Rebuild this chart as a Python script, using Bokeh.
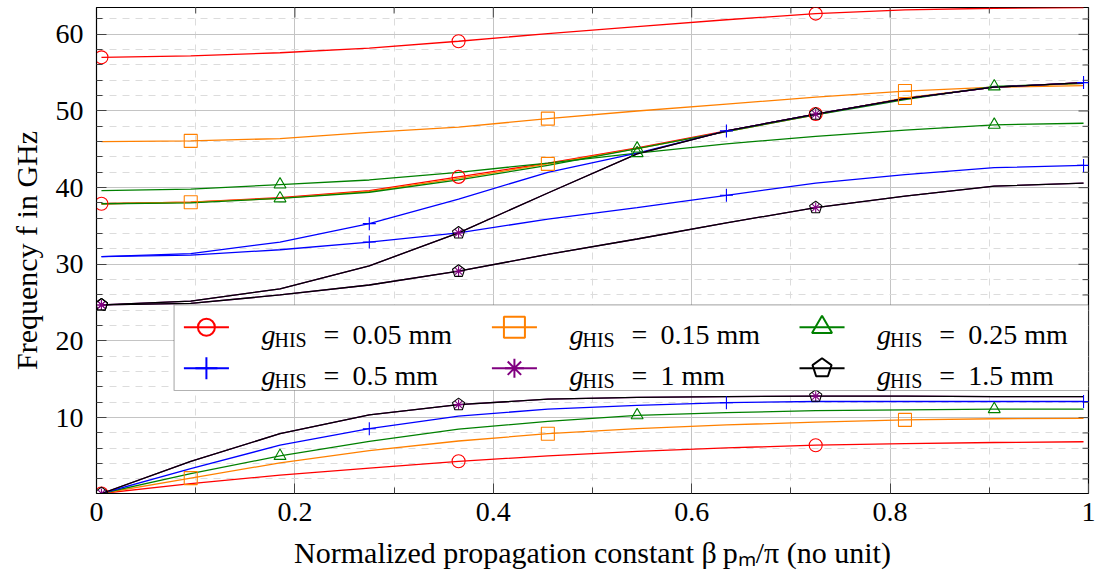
import math
from bokeh.plotting import figure
from bokeh.models import (FixedTicker, BoxAnnotation, Label, Range1d,
                          CustomJSTickFormatter, ColumnDataSource)
from bokeh.models import glyphs as bk_glyphs
from bokeh.embed import file_html
from bokeh.resources import INLINE

# ---------------------------------------------------------------- data
BETA = [0.005, 0.095, 0.185, 0.275, 0.365, 0.455, 0.545, 0.635, 0.725, 0.815, 0.905, 0.995]

G005_LOW = [0.1, 1.4, 2.5, 3.4, 4.3, 5.0, 5.6, 6.05, 6.4, 6.6, 6.75, 6.85]
G005_MID = [37.9, 38.1, 38.7, 39.6, 41.4, 43.2, 45.2, 47.4, 49.6, 51.6, 53.1, 53.7]
G005_TOP = [57.0, 57.2, 57.6, 58.2, 59.1, 60.1, 61.0, 61.9, 62.7, 63.2, 63.4, 63.5]

G015_LOW = [0.1, 2.1, 4.1, 5.7, 6.95, 7.9, 8.55, 9.05, 9.4, 9.7, 9.85, 9.9]
G015_MID = [37.9, 38.1, 38.6, 39.5, 41.2, 43.1, 45.1, 47.3, 49.5, 51.7, 53.1, 53.6]
G015_TOP = [46.0, 46.1, 46.4, 47.2, 47.9, 49.0, 50.0, 50.9, 51.8, 52.6, 53.1, 53.3]

G025_LOW = [0.1, 2.7, 5.0, 6.9, 8.5, 9.5, 10.3, 10.65, 10.9, 11.0, 11.1, 11.1]
G025_MID = [37.9, 38.0, 38.6, 39.4, 41.0, 42.9, 45.1, 47.3, 49.5, 51.5, 53.2, 53.6]
G025_TOP = [39.6, 39.8, 40.4, 41.0, 42.0, 43.2, 44.5, 45.7, 46.7, 47.5, 48.2, 48.4]

G05_LOW = [0.1, 3.35, 6.4, 8.55, 10.2, 11.1, 11.6, 11.95, 12.1, 12.1, 12.1, 12.1]
G05_MID = [31.0, 31.2, 31.9, 32.9, 34.1, 35.9, 37.4, 39.0, 40.6, 41.7, 42.6, 42.9]
G05_TOP = [31.0, 31.4, 32.9, 35.3, 38.5, 42.0, 44.5, 47.4, 49.6, 51.6, 53.1, 53.7]

G1_LOW = [0.1, 4.3, 7.9, 10.35, 11.7, 12.4, 12.65, 12.75, 12.8, 12.8, 12.75, 12.75]
G1_MID = [24.7, 24.9, 26.0, 27.3, 29.1, 31.3, 33.3, 35.4, 37.4, 38.9, 40.2, 40.6]
G1_TOP = [24.7, 25.2, 26.8, 29.8, 34.1, 39.3, 44.4, 47.4, 49.6, 51.6, 53.1, 53.7]

G15_LOW = [0.1, 4.3, 7.9, 10.35, 11.7, 12.4, 12.65, 12.75, 12.8, 12.8, 12.75, 12.75]
G15_MID = [24.7, 24.9, 26.0, 27.3, 29.1, 31.3, 33.3, 35.4, 37.4, 38.9, 40.2, 40.6]
G15_TOP = [24.7, 25.2, 26.8, 29.8, 34.1, 39.3, 44.4, 47.4, 49.6, 51.6, 53.1, 53.7]

LEGEND_VALUES = ["0.05 mm", "0.15 mm", "0.25 mm", "0.5 mm", "1 mm", "1.5 mm"]

XTICKS = [0, 0.2, 0.4, 0.6, 0.8, 1]
XTICK_LABELS = ["0", "0.2", "0.4", "0.6", "0.8", "1"]
XMINOR = [0.1, 0.3, 0.5, 0.7, 0.9]
YTICKS = [10, 20, 30, 40, 50, 60]
YMINOR = [2, 4, 6, 8, 12, 14, 16, 18, 22, 24, 26, 28, 32, 34, 36, 38,
          42, 44, 46, 48, 52, 54, 56, 58, 62]

X_LABEL = "Normalized propagation constant \u03b2\u2009p\u2098/\u03c0 (no unit)"
Y_LABEL = "Frequency f in GHz"

# ---------------------------------------------------------------- styles
SERIES = [
    dict(branches=[G005_LOW, G005_MID, G005_TOP], color="#ff0000", marker="circle", phase=0),
    dict(branches=[G015_LOW, G015_MID, G015_TOP], color="#ff8000", marker="square", phase=1),
    dict(branches=[G025_LOW, G025_MID, G025_TOP], color="#008000", marker="triangle", phase=2),
    dict(branches=[G05_LOW, G05_MID, G05_TOP], color="#0000ff", marker="cross", phase=3),
    dict(branches=[G1_LOW, G1_MID, G1_TOP], color="#800080", marker="asterisk", phase=0),
    dict(branches=[G15_LOW, G15_MID, G15_TOP], color="#000000", marker="pentagon", phase=0),
]
MARK_REPEAT = 4
DATA_MARK_SIZE = dict(circle=13, square=13, triangle=12, cross=13, asterisk=10, pentagon=6.4)
LEG_MARK_SIZE = dict(circle=17, square=21, triangle=20, cross=22, asterisk=19, pentagon=10)

FONT = "Liberation Serif"
TICK_FS = "28px"
LABEL_FS = "30px"
LEG_FS = "28px"
SUB_FS = "20px"
TICK_COLOR = "#444444"

X0, X1 = 0.0, 1.0
Y0, Y1 = 0.1, 63.5

# frame geometry on page (pixels) used for placing the hand-built legend
FR_L, FR_T = 97.0, 7.0
FR_W, FR_H = 991.0, 486.0


def dx(px):
    return X0 + (px - FR_L) / FR_W * (X1 - X0)


def dy(py):
    return Y1 - (py - FR_T) / FR_H * (Y1 - Y0)


p = figure(width=1096, height=576, x_range=Range1d(X0, X1), y_range=Range1d(Y0, Y1),
           output_backend="svg", toolbar_location=None,
           min_border_left=96, min_border_right=8, min_border_top=7, min_border_bottom=83)
p.outline_line_color = "black"
p.outline_line_width = 1.2
p.background_fill_color = "white"
p.border_fill_color = "white"

xt = FixedTicker(ticks=XTICKS, minor_ticks=XMINOR)
yt = FixedTicker(ticks=YTICKS, minor_ticks=YMINOR)
xfmt = CustomJSTickFormatter(args=dict(tvals=XTICKS, tlabs=XTICK_LABELS),
                             code="const i = tvals.findIndex(t => Math.abs(t - tick) < 1e-9); return i >= 0 ? tlabs[i] : '';")

for ax in p.xaxis:
    ax.ticker = xt
    ax.formatter = xfmt
for ax in p.yaxis:
    ax.ticker = yt

for ax in list(p.xaxis) + list(p.yaxis):
    ax.major_tick_in = 10
    ax.major_tick_out = 0
    ax.minor_tick_in = 6
    ax.minor_tick_out = 0
    ax.major_tick_line_color = TICK_COLOR
    ax.minor_tick_line_color = TICK_COLOR
    ax.axis_line_color = "black"
    ax.major_label_text_font = FONT
    ax.major_label_text_font_size = TICK_FS
    ax.major_label_text_color = "black"
    ax.axis_label_text_font = FONT
    ax.axis_label_text_font_size = LABEL_FS
    ax.axis_label_text_font_style = "normal"
    ax.axis_label_text_color = "black"

p.xaxis.axis_label = X_LABEL
p.yaxis.axis_label = Y_LABEL
p.xaxis.major_label_standoff = 9
p.xaxis.axis_label_standoff = 12
p.yaxis.major_label_standoff = 13
p.yaxis.axis_label_standoff = 10

for g, tk in ((p.xgrid, xt), (p.ygrid, yt)):
    g.ticker = tk
    g.grid_line_color = "#c4c4c4"
    g.grid_line_width = 1
    g.minor_grid_line_color = "#dcdcdc"
    g.minor_grid_line_width = 1
    g.minor_grid_line_dash = "7 6"

# inward ticks on the top and right frame edges (mirrored pgfplots style)
p.ray(x=XTICKS, y=[Y1] * len(XTICKS), length=10, length_units="screen", angle=-math.pi / 2,
      line_color=TICK_COLOR, line_width=1)
p.ray(x=XMINOR, y=[Y1] * len(XMINOR), length=6, length_units="screen", angle=-math.pi / 2,
      line_color=TICK_COLOR, line_width=1)
p.ray(x=[X1] * len(YTICKS), y=YTICKS, length=10, length_units="screen", angle=math.pi,
      line_color=TICK_COLOR, line_width=1)
p.ray(x=[X1] * len(YMINOR), y=YMINOR, length=6, length_units="screen", angle=math.pi,
      line_color=TICK_COLOR, line_width=1)

HAS_NGON = hasattr(bk_glyphs, "Ngon")


def draw_markers(xs, ys, kind, size, color, lw, level="glyph"):
    if kind == "pentagon":
        if HAS_NGON:
            try:
                src = ColumnDataSource(dict(x=xs, y=ys))
                gl = bk_glyphs.Ngon(x="x", y="y", radius=size, radius_units="screen", n=5,
                                    angle=0, fill_color=None, line_color=color,
                                    line_width=lw)
                r = p.add_glyph(src, gl)
                r.level = level
                return
            except Exception:
                pass
        p.scatter(xs, ys, marker="hex", size=2 * size, fill_color=None, line_color=color,
                  line_width=lw, level=level)
        return
    p.scatter(xs, ys, marker=kind, size=size, fill_color=None, line_color=color,
              line_width=lw, level=level)


for s in SERIES:
    for br in s["branches"]:
        p.line(BETA, br, line_color=s["color"], line_width=1.3)
for s in SERIES:
    for br in s["branches"]:
        idx = list(range(s["phase"], len(BETA), MARK_REPEAT))
        draw_markers([BETA[i] for i in idx], [br[i] for i in idx], s["marker"],
                     DATA_MARK_SIZE[s["marker"]], s["color"], 1.1)

# ---------------------------------------------------------------- legend (hand built)
LEG_L, LEG_R, LEG_T, LEG_B = 174.5, 1088.0, 304.3, 390.0
ROW_CY = [326.7, 367.7]
ROW_BASE = [334.3, 375.0]
COL_X = [184.3, 492.0, 799.3]

box = BoxAnnotation(left=dx(LEG_L), right=dx(LEG_R), top=dy(LEG_T), bottom=dy(LEG_B),
                    fill_color="white", fill_alpha=1.0, line_color="black", line_width=1.2)
p.add_layout(box)

for k, s in enumerate(SERIES):
    row, col = divmod(k, 3)
    cx = COL_X[col]
    cy = ROW_CY[row]
    p.line([dx(cx), dx(cx + 45)], [dy(cy), dy(cy)], line_color=s["color"], line_width=2,
           level="overlay")
    draw_markers([dx(cx + 22.5)], [dy(cy)], s["marker"], LEG_MARK_SIZE[s["marker"]],
                 s["color"], 2, level="overlay")
    tx = cx + 77.5
    base = ROW_BASE[row]
    p.add_layout(Label(x=dx(tx), y=dy(base), text="g", text_font=FONT, text_font_size=LEG_FS,
                       text_font_style="italic", text_baseline="alphabetic", text_color="black"))
    p.add_layout(Label(x=dx(tx + 13), y=dy(base + 5.5), text="HIS", text_font=FONT,
                       text_font_size=SUB_FS, text_baseline="alphabetic", text_color="black"))
    p.add_layout(Label(x=dx(tx + 62), y=dy(base), text="=", text_font=FONT, text_font_size=LEG_FS,
                       text_baseline="alphabetic", text_color="black"))
    p.add_layout(Label(x=dx(tx + 91), y=dy(base), text=LEGEND_VALUES[k], text_font=FONT,
                       text_font_size=LEG_FS, text_baseline="alphabetic", text_color="black"))

open("out.html", "w").write(file_html(p, INLINE))
